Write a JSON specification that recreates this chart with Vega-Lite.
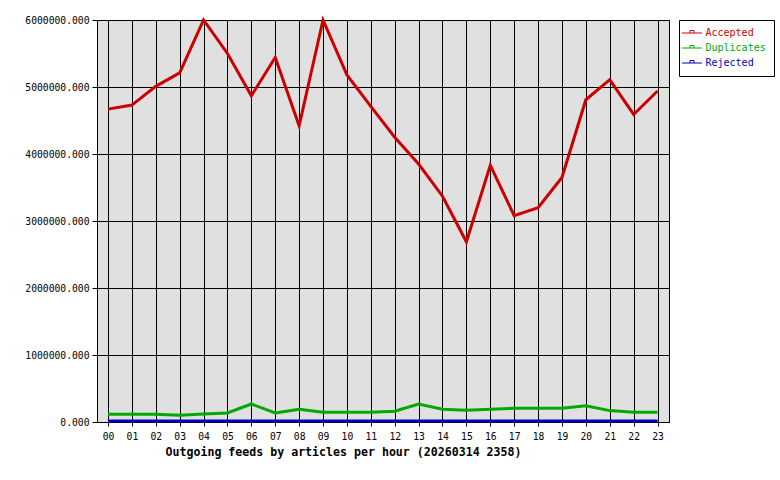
{
  "$schema": "https://vega.github.io/schema/vega-lite/v6.json",
  "autosize": {"type": "none"},
  "width": 572,
  "height": 402,
  "padding": {"left": 97, "top": 20, "right": 111, "bottom": 58},
  "background": "white",
  "config": {
    "view": {"fill": "#e0e0e0", "stroke": "black", "strokeWidth": 1},
    "font": "DejaVu Sans Mono"
  },
  "data": {
    "values": [
      {"hour": 0, "series": "Accepted", "value": 4670000},
      {"hour": 1, "series": "Accepted", "value": 4730000},
      {"hour": 2, "series": "Accepted", "value": 5010000},
      {"hour": 3, "series": "Accepted", "value": 5210000},
      {"hour": 4, "series": "Accepted", "value": 6000000},
      {"hour": 5, "series": "Accepted", "value": 5500000},
      {"hour": 6, "series": "Accepted", "value": 4870000},
      {"hour": 7, "series": "Accepted", "value": 5440000},
      {"hour": 8, "series": "Accepted", "value": 4420000},
      {"hour": 9, "series": "Accepted", "value": 6000000},
      {"hour": 10, "series": "Accepted", "value": 5180000},
      {"hour": 11, "series": "Accepted", "value": 4710000},
      {"hour": 12, "series": "Accepted", "value": 4250000},
      {"hour": 13, "series": "Accepted", "value": 3850000},
      {"hour": 14, "series": "Accepted", "value": 3370000},
      {"hour": 15, "series": "Accepted", "value": 2690000},
      {"hour": 16, "series": "Accepted", "value": 3830000},
      {"hour": 17, "series": "Accepted", "value": 3080000},
      {"hour": 18, "series": "Accepted", "value": 3200000},
      {"hour": 19, "series": "Accepted", "value": 3650000},
      {"hour": 20, "series": "Accepted", "value": 4810000},
      {"hour": 21, "series": "Accepted", "value": 5110000},
      {"hour": 22, "series": "Accepted", "value": 4590000},
      {"hour": 23, "series": "Accepted", "value": 4940000},
      {"hour": 0, "series": "Duplicates", "value": 115000},
      {"hour": 1, "series": "Duplicates", "value": 115000},
      {"hour": 2, "series": "Duplicates", "value": 115000},
      {"hour": 3, "series": "Duplicates", "value": 100000},
      {"hour": 4, "series": "Duplicates", "value": 118000},
      {"hour": 5, "series": "Duplicates", "value": 134000},
      {"hour": 6, "series": "Duplicates", "value": 269000},
      {"hour": 7, "series": "Duplicates", "value": 134000},
      {"hour": 8, "series": "Duplicates", "value": 190000},
      {"hour": 9, "series": "Duplicates", "value": 145000},
      {"hour": 10, "series": "Duplicates", "value": 145000},
      {"hour": 11, "series": "Duplicates", "value": 145000},
      {"hour": 12, "series": "Duplicates", "value": 160000},
      {"hour": 13, "series": "Duplicates", "value": 269000},
      {"hour": 14, "series": "Duplicates", "value": 190000},
      {"hour": 15, "series": "Duplicates", "value": 175000},
      {"hour": 16, "series": "Duplicates", "value": 190000},
      {"hour": 17, "series": "Duplicates", "value": 205000},
      {"hour": 18, "series": "Duplicates", "value": 205000},
      {"hour": 19, "series": "Duplicates", "value": 205000},
      {"hour": 20, "series": "Duplicates", "value": 243000},
      {"hour": 21, "series": "Duplicates", "value": 170000},
      {"hour": 22, "series": "Duplicates", "value": 145000},
      {"hour": 23, "series": "Duplicates", "value": 145000},
      {"hour": 0, "series": "Rejected", "value": 15000},
      {"hour": 1, "series": "Rejected", "value": 15000},
      {"hour": 2, "series": "Rejected", "value": 15000},
      {"hour": 3, "series": "Rejected", "value": 15000},
      {"hour": 4, "series": "Rejected", "value": 15000},
      {"hour": 5, "series": "Rejected", "value": 15000},
      {"hour": 6, "series": "Rejected", "value": 15000},
      {"hour": 7, "series": "Rejected", "value": 15000},
      {"hour": 8, "series": "Rejected", "value": 15000},
      {"hour": 9, "series": "Rejected", "value": 15000},
      {"hour": 10, "series": "Rejected", "value": 15000},
      {"hour": 11, "series": "Rejected", "value": 15000},
      {"hour": 12, "series": "Rejected", "value": 15000},
      {"hour": 13, "series": "Rejected", "value": 15000},
      {"hour": 14, "series": "Rejected", "value": 15000},
      {"hour": 15, "series": "Rejected", "value": 15000},
      {"hour": 16, "series": "Rejected", "value": 15000},
      {"hour": 17, "series": "Rejected", "value": 15000},
      {"hour": 18, "series": "Rejected", "value": 15000},
      {"hour": 19, "series": "Rejected", "value": 15000},
      {"hour": 20, "series": "Rejected", "value": 15000},
      {"hour": 21, "series": "Rejected", "value": 15000},
      {"hour": 22, "series": "Rejected", "value": 15000},
      {"hour": 23, "series": "Rejected", "value": 15000}
    ]
  },
  "mark": {"type": "line", "strokeWidth": 3, "clip": false},
  "encoding": {
    "x": {
      "field": "hour",
      "type": "quantitative",
      "scale": {"domain": [-0.46, 23.48], "nice": false, "zero": false},
      "axis": {
        "values": [0,1,2,3,4,5,6,7,8,9,10,11,12,13,14,15,16,17,18,19,20,21,22,23],
        "format": "02d",
        "title": "Outgoing feeds by articles per hour (20260314 2358)",
        "titleFont": "DejaVu Sans Mono",
        "titleFontWeight": "bold",
        "titleFontSize": 11.6,
        "titleColor": "black",
        "titleX": 246,
        "titleY": 30,
        "titleAlign": "center",
        "titleBaseline": "middle",
        "labelFont": "DejaVu Sans Mono",
        "labelFontSize": 9.7,
        "labelColor": "black",
        "labelPadding": 5,
        "labelFlush": false,
        "labelOverlap": false,
        "tickColor": "black",
        "tickSize": 4,
        "domainColor": "black",
        "grid": true,
        "gridColor": "black",
        "gridOpacity": 1,
        "gridWidth": 1
      }
    },
    "y": {
      "field": "value",
      "type": "quantitative",
      "scale": {"domain": [0, 6000000], "nice": false},
      "axis": {
        "values": [0, 1000000, 2000000, 3000000, 4000000, 5000000, 6000000],
        "format": ".3f",
        "title": null,
        "labelFont": "DejaVu Sans Mono",
        "labelFontSize": 9.7,
        "labelColor": "black",
        "labelPadding": 3,
        "labelFlush": false,
        "labelOverlap": false,
        "tickColor": "black",
        "tickSize": 5,
        "domainColor": "black",
        "grid": true,
        "gridColor": "black",
        "gridOpacity": 1,
        "gridWidth": 1
      }
    },
    "color": {
      "field": "series",
      "type": "nominal",
      "scale": {
        "domain": ["Accepted", "Duplicates", "Rejected"],
        "range": ["#cc0000", "#00aa00", "#0000bb"]
      },
      "legend": {
        "title": null,
        "orient": "right",
        "offset": 10,
        "strokeColor": "black",
        "fillColor": "white",
        "padding": 7.5,
        "symbolType": "M-2,0H2M-0.4,0V-0.5H0.4V0",
        "symbolSize": 100,
        "symbolStrokeWidth": 1,
        "labelOffset": 8,
        "labelFont": "DejaVu Sans Mono",
        "labelFontSize": 10,
        "rowPadding": 4,
        "encode": {
          "labels": {"update": {"fill": {"signal": "scale('color', datum.value)"}}}
        }
      }
    },
    "order": {"field": "hour", "type": "quantitative"}
  }
}
